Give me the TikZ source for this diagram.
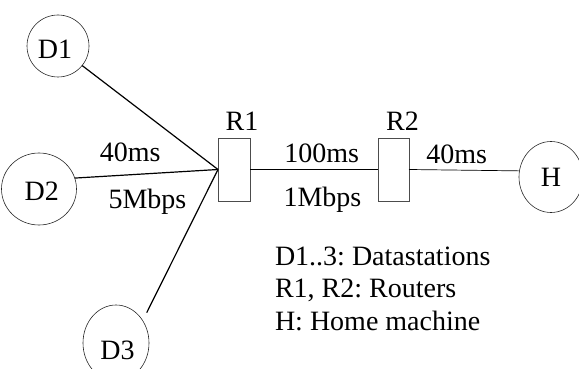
\documentclass[tikz,border=0pt]{standalone}
\usepackage{fontspec}
\setmainfont{Liberation Serif}
\usetikzlibrary{shapes.geometric}
\frenchspacing
\tikzset{
  txt/.style={font=\fontsize{28}{32}\selectfont\frenchspacing, inner sep=0pt, outer sep=0pt},
  station/.style={ellipse, draw=black!85, line width=0.6pt, inner sep=0pt, outer sep=0pt},
  router/.style={rectangle, draw=black!70, line width=0.6pt, inner sep=0pt, outer sep=0pt, minimum height=63pt},
  dline/.style={line width=1.2pt, black},
  rline/.style={line width=0.7pt, black},
}
\begin{document}
\begin{tikzpicture}[x=1pt,y=-1pt]
\useasboundingbox (0,0) rectangle (579,369);
% stations
\node[station, minimum width=62pt, minimum height=62pt] (D1) at (58,46) {};
\node[station, minimum width=75pt, minimum height=72pt] (D2) at (39,189) {};
\node[station, minimum width=66pt, minimum height=76pt] (D3) at (116,343) {};
\node[station, minimum width=64pt, minimum height=71pt] (H) at (551,177) {};
\node[txt] (D1t) at (55,49.7) {D1};
\node[txt] (D2t) at (41.7,191) {D2};
\node[txt] (D3t) at (117.5,350) {D3};
\node[txt] (Ht) at (551,177) {H};
% routers
\node[router, minimum width=32pt] (R1) at (234,169.5) {};
\node[router, minimum width=31pt] (R2) at (393.5,169.5) {};
\node[txt, anchor=base] (R1t) at (242,131) {R1};
\node[txt, anchor=base] (R2t) at (402.5,131) {R2};
% connectors
\coordinate (D3e) at (146.7,312.7);
\draw[dline] (D1.-39) -- (R1.west);
\draw[dline] (D2.17) -- (R1.west);
\draw[dline] (D3e) -- (R1.west);
\draw[rline] (R1.east) -- (R2.west);
\draw[rline] (R2.east) -- (H.169);
% link labels
\node[txt, anchor=base] (l1) at (130.3,161.7) {40ms};
\node[txt, anchor=base] (l2) at (147.5,208) {5Mbps};
\node[txt, anchor=base] (l3) at (321.7,162.7) {100ms};
\node[txt, anchor=base] (l4) at (322.5,206) {1Mbps};
\node[txt, anchor=base] (l5) at (456.7,163) {40ms};
% legend
\node[txt, anchor=base west] (g1) at (275,265) {D1..3: Datastations};
\node[txt, anchor=base west] (g2) at (275,297.5) {R1, R2: Routers};
\node[txt, anchor=base west] (g3) at (275,330) {H: Home machine};
\end{tikzpicture}
\end{document}
